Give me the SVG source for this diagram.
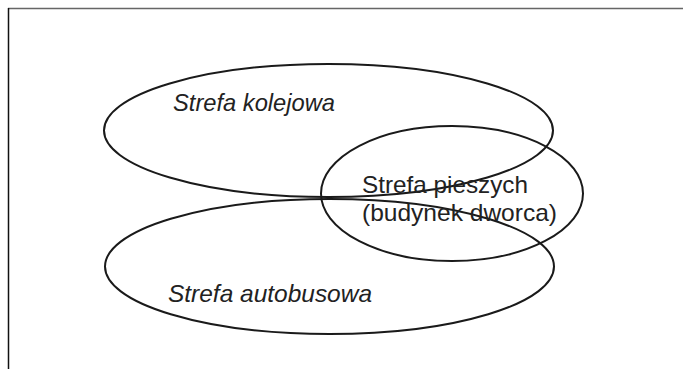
<svg xmlns="http://www.w3.org/2000/svg" width="683" height="369" viewBox="0 0 683 369">
<style>
.zone{fill:none;stroke:#1a1a1a;stroke-width:2}
.lbl{font-family:"Liberation Sans",Arial,sans-serif;font-size:24px;fill:#222}
.it{font-style:italic}
</style>
<rect x="0" y="0" width="683" height="369" fill="#fff"/>
<line x1="8" y1="8.5" x2="683" y2="8.5" stroke="#666" stroke-width="1.5"/>
<line x1="8.5" y1="8" x2="8.5" y2="369" stroke="#111" stroke-width="1.5"/>
<g id="strefa-kolejowa">
<ellipse class="zone" cx="328.5" cy="130.5" rx="224.5" ry="66.5"/>
<text class="lbl it" x="173" y="111" textLength="162" lengthAdjust="spacingAndGlyphs">Strefa kolejowa</text>
</g>
<g id="strefa-autobusowa">
<ellipse class="zone" cx="329.5" cy="266.5" rx="224.5" ry="67.5"/>
<text class="lbl it" x="168" y="302" textLength="204" lengthAdjust="spacingAndGlyphs">Strefa autobusowa</text>
</g>
<g id="strefa-pieszych">
<ellipse class="zone" cx="452" cy="193.5" rx="131" ry="67.5"/>
<text class="lbl" x="362" y="193" textLength="166" lengthAdjust="spacingAndGlyphs">Strefa pieszych</text>
<text class="lbl" x="362" y="221" textLength="195" lengthAdjust="spacingAndGlyphs">(budynek dworca)</text>
</g>
<g id="connectors"></g>
</svg>
